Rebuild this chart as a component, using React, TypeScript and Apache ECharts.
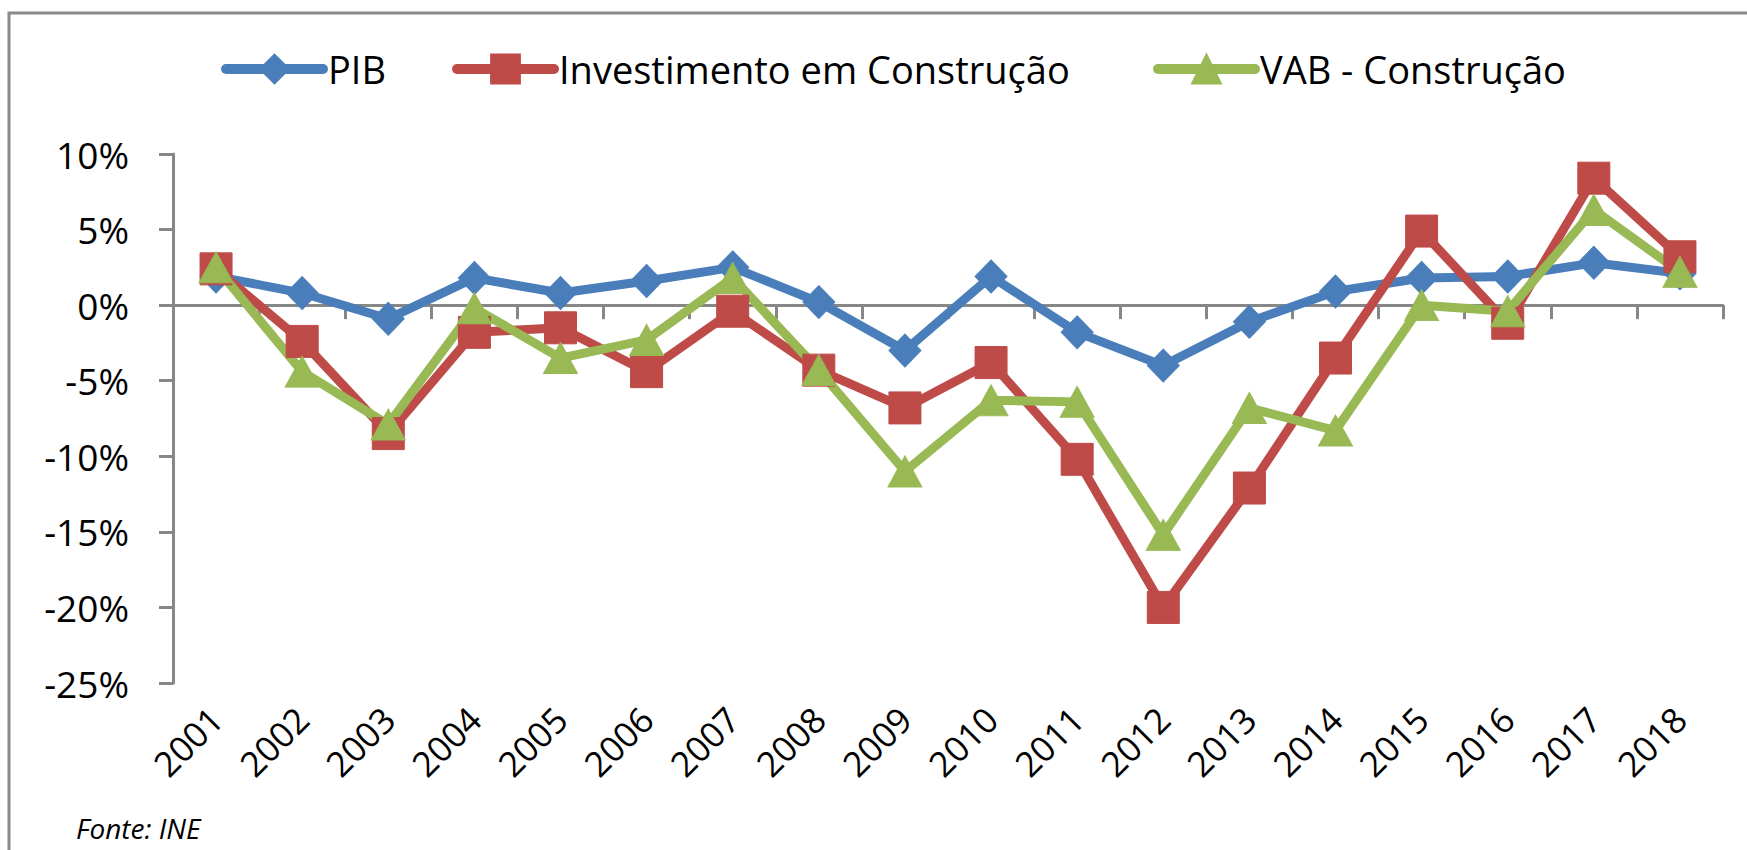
import React, { useEffect, useRef } from "react";
import * as echarts from "echarts";

const years = ["2001", "2002", "2003", "2004", "2005", "2006", "2007", "2008", "2009", "2010", "2011", "2012", "2013", "2014", "2015", "2016", "2017", "2018"];
const pib = [1.9, 0.8, -0.9, 1.8, 0.8, 1.6, 2.5, 0.2, -3.0, 1.9, -1.8, -4.0, -1.1, 0.9, 1.8, 1.9, 2.8, 2.1];
const investimento = [2.4, -2.4, -8.5, -1.8, -1.5, -4.4, -0.4, -4.3, -6.8, -3.8, -10.2, -20.0, -12.1, -3.5, 4.9, -1.2, 8.4, 3.2];
const vab = [2.5, -4.4, -7.9, -0.2, -3.5, -2.3, 1.8, -4.3, -11.0, -6.3, -6.4, -15.2, -6.8, -8.3, 0.0, -0.4, 6.3, 2.2];
const seriesNames = ["PIB", "Investimento em Construção", "VAB - Construção"];
const yMin = -25;
const yMax = 10;
const yStep = 5;
const sourceNote = "Fonte: INE";

const FONT = "'Open Sans', 'Noto Sans', sans-serif";
const AXIS_GRAY = "#878787";

export default function App() {
  const ref = useRef<HTMLDivElement>(null);

  useEffect(() => {
    if (!ref.current) return;
    const chart = echarts.init(ref.current, undefined, { renderer: "svg" });

    const legendBase = {
      orient: "horizontal",
      top: 50,
      padding: 0,
      itemWidth: 97,
      itemHeight: 36,
      itemGap: 0,
      lineStyle: { width: 10, cap: "round" },
      textStyle: { fontFamily: FONT, fontSize: 38, color: "#000", lineHeight: 36 },
    };

    const lineSeries = (name: string, data: number[], color: string, symbol: string, size: number[]) => ({
      name,
      type: "line",
      data,
      xAxisIndex: 0,
      yAxisIndex: 0,
      symbol,
      symbolSize: size,
      showAllSymbol: true,
      color,
      lineStyle: { color, width: 9, join: "round", cap: "round" },
      itemStyle: { color, borderColor: color, borderWidth: 1 },
      emphasis: { disabled: true },
    });

    chart.setOption({
      animation: false,
      backgroundColor: "#fff",
      textStyle: { fontFamily: FONT },
      legend: [
        { ...legendBase, left: 221, data: [seriesNames[0]] },
        { ...legendBase, left: 452, data: [seriesNames[1]] },
        { ...legendBase, left: 1153, data: [seriesNames[2]] },
      ],
      grid: { left: 173, right: 24, top: 154, bottom: 167, containLabel: false },
      xAxis: [
        {
          type: "category",
          data: years,
          boundaryGap: true,
          axisLine: { show: true, onZero: true, lineStyle: { color: AXIS_GRAY, width: 3 } },
          axisTick: { show: true, length: 14, lineStyle: { color: AXIS_GRAY, width: 3 } },
          axisLabel: { show: false },
          splitLine: { show: false },
        },
        {
          type: "category",
          data: years,
          position: "bottom",
          boundaryGap: true,
          axisLine: { show: false, onZero: false },
          axisTick: { show: false },
          axisLabel: {
            show: true,
            rotate: 45,
            interval: 0,
            margin: 30,
            fontFamily: FONT,
            fontSize: 35,
            color: "#000",
          },
          splitLine: { show: false },
        },
      ],
      yAxis: {
        type: "value",
        min: yMin,
        max: yMax,
        interval: yStep,
        axisLine: { show: true, lineStyle: { color: AXIS_GRAY, width: 3 } },
        axisTick: { show: true, length: 14, lineStyle: { color: AXIS_GRAY, width: 3 } },
        splitLine: { show: false },
        axisLabel: {
          formatter: "{value}%",
          margin: 44,
          fontFamily: FONT,
          fontSize: 37,
          color: "#000",
        },
      },
      series: [
        lineSeries(seriesNames[0], pib, "#4A7EBB", "diamond", [32, 33]),
        lineSeries(seriesNames[1], investimento, "#BE4B48", "rect", [32, 32]),
        lineSeries(seriesNames[2], vab, "#98B954", "triangle", [34, 31]),
      ],
      graphic: [
        {
          type: "rect",
          shape: { x: 9, y: 13, width: 1800, height: 900 },
          style: { fill: "none", stroke: "#8a8a8a", lineWidth: 3 },
          silent: true,
          z: 100,
        },
        {
          type: "text",
          x: 76,
          y: 828,
          style: {
            text: sourceNote,
            fontFamily: FONT,
            fontSize: 28,
            fontStyle: "italic",
            fill: "#000",
            textVerticalAlign: "middle",
          },
          silent: true,
        },
      ],
    });

    return () => chart.dispose();
  }, []);

  return (
    <div
      ref={ref}
      style={{ position: "fixed", left: 0, top: 0, width: 1747, height: 850, background: "#fff" }}
    />
  );
}
